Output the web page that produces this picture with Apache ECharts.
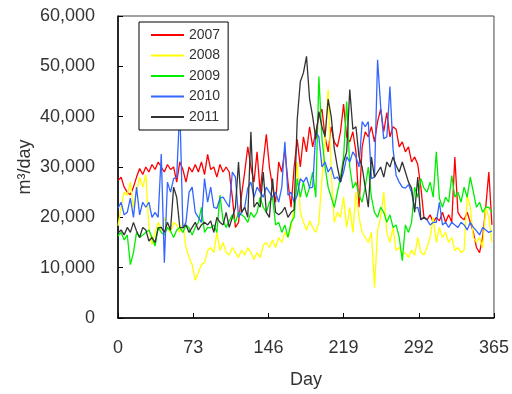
<!DOCTYPE html>
<html>
<head>
<meta charset="utf-8">
<script src="https://cdn.jsdelivr.net/npm/echarts@6/dist/echarts.min.js"></script>
<style>
  html, body { margin: 0; padding: 0; background: #fff; }
  #chart { width: 512px; height: 394px; }
</style>
</head>
<body>
<div id="chart"></div>
<script>
// readings every 3 days, values in thousand m3/day
const step = 3;
const names = ["2007", "2008", "2009", "2010", "2011"];
const yLabels = ["0", "10,000", "20,000", "30,000", "40,000", "50,000", "60,000"];

const y2007 = [
  27.3, 28, 26, 25, 24.5, 26, 28, 29.7, 28.5, 30,
  29, 30.5, 29.5, 31, 30, 29, 30.5, 29.5, 30, 27,
  31, 29.5, 27, 30, 29, 30.5, 29, 31, 28.5, 32.5,
  29.5, 30, 28, 30.5, 29, 30, 29, 24, 18, 19,
  24.5, 29, 34, 30, 27, 33, 25, 31, 36.5, 30,
  26, 23, 31, 29, 33.5, 27, 22, 30, 35.5, 30,
  36, 33, 38, 34, 37, 40, 41.5, 36, 33, 38,
  35, 34, 37, 42.5, 36, 35, 37, 33, 22, 34,
  37, 36, 38, 35, 39, 41.5, 37, 40.8, 36, 38,
  37.5, 34, 35, 33, 34, 31, 32, 30.5, 26, 20,
  19.5, 20.5, 19, 20, 19.3, 21, 19, 20.5, 19, 32,
  21, 20, 19.5, 21, 19, 17, 14, 13, 16, 22,
  29, 18.5
];
const y2008 = [
  18.3, 22, 25, 24.4, 27, 22, 25, 28, 26, 28.5,
  18, 14.6, 17, 19, 17.5, 20, 18, 17, 19, 18.5,
  17, 19, 14, 12, 10.6, 7.5, 9, 10.6, 11, 13.4,
  14, 13, 17, 13.4, 15, 13, 12.5, 14, 13, 12,
  13.5, 12.5, 14, 13, 11.6, 13, 12, 14.5, 15, 14,
  15.5, 14, 16, 15, 17, 16, 18, 22, 31, 21,
  19, 17.5, 19.3, 18, 17, 19, 27.7, 35, 45.4, 29,
  19, 21, 20, 24, 18, 22, 17, 25, 20, 17,
  16, 15, 17, 6, 17.3, 20, 25, 17, 15, 18,
  13.4, 14, 12.6, 13, 12, 13.5, 12.5, 16, 13, 12.5,
  14, 16, 20, 15, 18, 16, 17, 15, 16, 13.4,
  14, 13, 13.4, 24.4, 22, 16, 15, 16, 14, 22,
  20, 15
];
const y2009 = [
  16.3, 17, 15.5, 16.5, 10.6, 13, 17, 16, 16.5, 17,
  17.5, 16, 14.3, 18, 17, 16.5, 18, 17.3, 16, 17.5,
  18, 17, 18.5, 17.9, 16.5, 18, 19, 22, 17, 18,
  17.9, 18.5, 17, 24.4, 19.3, 18, 19.3, 20.5, 19, 21,
  20.5, 20, 19, 21, 20, 21, 24, 22, 21, 23,
  24, 18.5, 19, 17, 18.5, 16, 19, 20, 27.7, 24,
  27, 24, 26, 29, 24, 48, 35.6, 30, 26, 24,
  22, 25, 28, 32, 43, 30, 25.8, 27, 24.4, 23,
  26, 30, 24, 21, 20, 22, 21, 19, 20.5, 18,
  18.5, 16, 11.4, 18.5, 17, 19, 26, 24, 27.7, 25.8,
  25, 27, 24, 33, 23.8, 22, 24, 23, 28.3, 24,
  25, 23, 26, 24, 28, 25, 22, 23, 21, 22,
  22, 21
];
const y2010 = [
  21.8, 23, 20.5, 21, 23.8, 20, 26, 20.5, 23, 22,
  23, 20, 21, 20, 32.6, 11, 27, 25, 27.7, 28,
  42, 17.9, 19, 25, 26, 21, 20, 19, 27.7, 23,
  26, 22, 21.8, 23.8, 24, 23, 22, 29, 28, 20,
  21, 22, 25.8, 27, 24, 26, 25, 24, 26, 25,
  24, 25, 23, 26, 35, 24.4, 25, 23, 24.4, 27.7,
  27, 28, 25.8, 26, 37, 36, 30, 31, 29, 30,
  27.7, 28, 27, 29, 32, 31, 33, 32, 30, 39,
  38, 39, 27.7, 28, 51.3, 42, 35.6, 36, 46, 33.6,
  28.3, 27, 26, 25.8, 26.5, 25, 21.8, 22, 19.5, 20,
  19.5, 18.5, 19, 19, 23, 18.5, 19, 18, 19, 18.5,
  18, 19, 18.5, 17.5, 19, 18, 17.3, 16.5, 18, 17.5,
  17, 17.3
];
const y2011 = [
  16.9, 17.5, 16.5, 18, 17, 19, 17.3, 16, 18, 17.5,
  15.3, 16, 15, 17.9, 18, 17, 19, 17.5, 26, 24,
  18, 17.9, 18.5, 17, 18, 19, 17.5, 18.5, 19, 18.5,
  19.3, 17, 20, 19, 18.5, 21, 18, 20, 22, 31,
  21, 22, 20, 37, 22, 23, 22, 29, 21, 20,
  27.7, 21, 20.5, 21, 22, 20, 21, 21.5, 39.5, 47,
  48.7, 52, 43.5, 40, 35.6, 41, 38, 36, 43.5, 40,
  33.6, 30, 27, 31, 33, 45.4, 37.5, 38, 32, 30,
  26, 22, 32, 28, 29, 30, 28, 31, 30, 32,
  30.3, 29, 31, 29, 27, 25.8, 21, 28, 19.5, 20,
  19.5
];

const allSeries = [y2007, y2008, y2009, y2010, y2011];
const colors = ["#ff0000", "#ffff00", "#00ee00", "#3366ff", "#333333"];
const font = "'Liberation Sans', Arial, sans-serif";

let chart = echarts.init(document.getElementById("chart"));

let seriesData = [];
for (let i = 0; i < names.length; i++) {
  seriesData.push({
    name: names[i],
    type: "line",
    showSymbol: false,
    symbol: "none",
    animation: false,
    lineStyle: { width: 1.3, color: colors[i] },
    itemStyle: { color: colors[i] },
    data: allSeries[i].map((v, k) => [k * step, v]),
  });
}

let option = {
  textStyle: { fontFamily: font },
  color: colors,
  grid: {
    left: 118, right: 18, top: 16, bottom: 73,
    show: true, borderColor: "#444", borderWidth: 1,
  },
  legend: {
    data: names,
    orient: "vertical",
    left: 139, top: 22,
    padding: [6, 8, 6, 12],
    itemWidth: 33, itemHeight: 2, itemGap: 6.5,
    icon: "rect",
    backgroundColor: "#fff",
    borderColor: "#000", borderWidth: 1,
    textStyle: { fontSize: 14, color: "#333", fontFamily: font },
  },
  xAxis: {
    type: "value",
    min: 0, max: 365, interval: 73,
    name: "Day",
    nameLocation: "middle",
    nameGap: 53,
    nameTextStyle: { fontSize: 18, color: "#333" },
    axisLine: { lineStyle: { color: "#000", width: 1.5 } },
    axisTick: { inside: true, length: 5, lineStyle: { color: "#000" } },
    axisLabel: { margin: 21, fontSize: 18, color: "#333" },
    splitLine: { show: false },
  },
  yAxis: {
    type: "value",
    min: 0, max: 60, interval: 10,
    name: "m³/day",
    nameLocation: "middle",
    nameGap: 84,
    nameMoveOverlap: false,
    nameTextStyle: { fontSize: 18, color: "#333" },
    axisLine: { show: true, lineStyle: { color: "#000", width: 1.5 } },
    axisTick: { show: true, inside: true, length: 5, lineStyle: { color: "#000" } },
    axisLabel: {
      margin: 23, fontSize: 18, color: "#333",
      formatter: (v) => yLabels[Math.round(v / 10)],
    },
    splitLine: { show: false },
  },
  series: seriesData,
};

chart.setOption(option);
</script>
</body>
</html>
